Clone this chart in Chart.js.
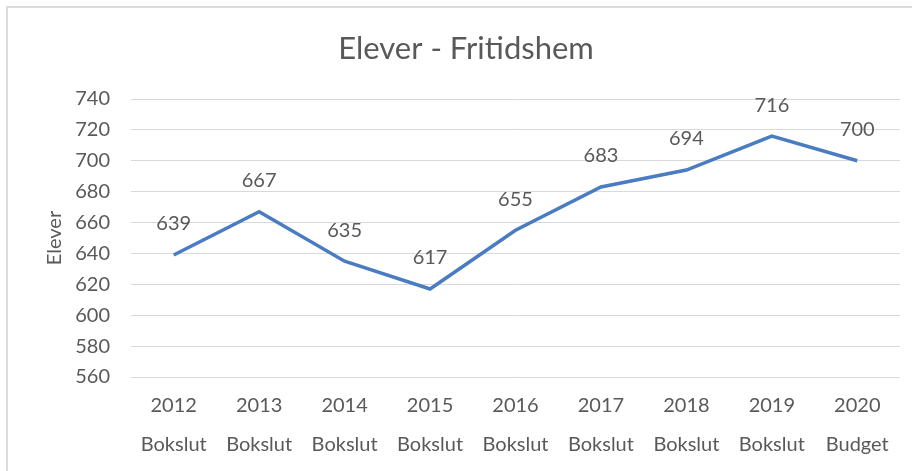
<!DOCTYPE html>
<html>
<head>
<meta charset="utf-8">
<script src="https://cdn.jsdelivr.net/npm/chart.js@4.4.1/dist/chart.umd.min.js"></script>
<style>
  html, body { margin: 0; padding: 0; background: #ffffff; }
  #wrap { width: 912px; height: 471px; position: relative; }
</style>
</head>
<body>
<div id="wrap"><canvas id="c" width="912" height="471"></canvas></div>
<script>
const titleText = 'Elever - Fritidshem';
const years = ['2012', '2013', '2014', '2015', '2016', '2017', '2018', '2019', '2020'];
const kinds = ['Bokslut', 'Bokslut', 'Bokslut', 'Bokslut', 'Bokslut', 'Bokslut', 'Bokslut', 'Bokslut', 'Budget'];
const elever = [639, 667, 635, 617, 655, 683, 694, 716, 700];
const yMin = 560, yMax = 740, yStep = 20;

const FONT = 'Lato, "Open Sans", sans-serif';
const TEXT = '#595959';

const labels = years.map((y, i) => [y, kinds[i]]);

const frame = {
  id: 'frame',
  beforeDraw(chart) {
    const ctx = chart.ctx;
    ctx.save();
    ctx.fillStyle = '#ffffff';
    ctx.fillRect(0, 0, chart.width, chart.height);
    ctx.strokeStyle = '#dcdcdc';
    ctx.lineWidth = 2;
    ctx.beginPath();
    ctx.moveTo(7, chart.height);
    ctx.lineTo(7, 7);
    ctx.lineTo(chart.width, 7);
    ctx.stroke();
    ctx.font = '31px ' + FONT;
    ctx.fillStyle = TEXT;
    ctx.textAlign = 'center';
    ctx.textBaseline = 'middle';
    ctx.fillText(titleText, 466, 49);
    ctx.restore();
  }
};

const valueLabels = {
  id: 'valueLabels',
  afterDatasetsDraw(chart) {
    const ctx = chart.ctx;
    const meta = chart.getDatasetMeta(0);
    ctx.save();
    ctx.font = '20px ' + FONT;
    ctx.fillStyle = TEXT;
    ctx.textAlign = 'center';
    ctx.textBaseline = 'middle';
    meta.data.forEach((pt, i) => {
      ctx.fillText(String(chart.data.datasets[0].data[i]), pt.x, pt.y - 31);
    });
    ctx.restore();
  }
};

new Chart(document.getElementById('c'), {
  type: 'line',
  data: {
    labels: labels,
    datasets: [{
      label: 'Elever',
      data: elever,
      borderColor: '#4A7CC2',
      borderWidth: 3.5,
      pointRadius: 0,
      tension: 0,
      fill: false
    }]
  },
  options: {
    responsive: false,
    animation: false,
    layout: { padding: { left: 0, right: 12, top: 99, bottom: 0 } },
    plugins: {
      legend: { display: false },
      tooltip: { enabled: false },
      title: { display: false }
    },
    scales: {
      x: {
        offset: true,
        grid: { display: false, drawTicks: false },
        border: { display: false },
        ticks: {
          color: TEXT,
          font: { family: FONT, size: 20, lineHeight: 1.95 },
          padding: 9,
          maxRotation: 0,
          autoSkip: false
        },
        afterFit(scale) { scale.height = 94; }
      },
      y: {
        min: yMin,
        max: yMax,
        grid: { color: '#d9d9d9', lineWidth: 1, drawTicks: false },
        border: { display: false },
        ticks: {
          stepSize: yStep,
          color: TEXT,
          font: { family: FONT, size: 20 },
          padding: 21
        },
        title: {
          display: true,
          text: 'Elever',
          color: TEXT,
          font: { family: FONT, size: 20, lineHeight: 1.2 },
          padding: { top: 43, bottom: 0 }
        },
        afterFit(scale) { scale.width = 131; }
      }
    }
  },
  plugins: [frame, valueLabels]
});
</script>
</body>
</html>
